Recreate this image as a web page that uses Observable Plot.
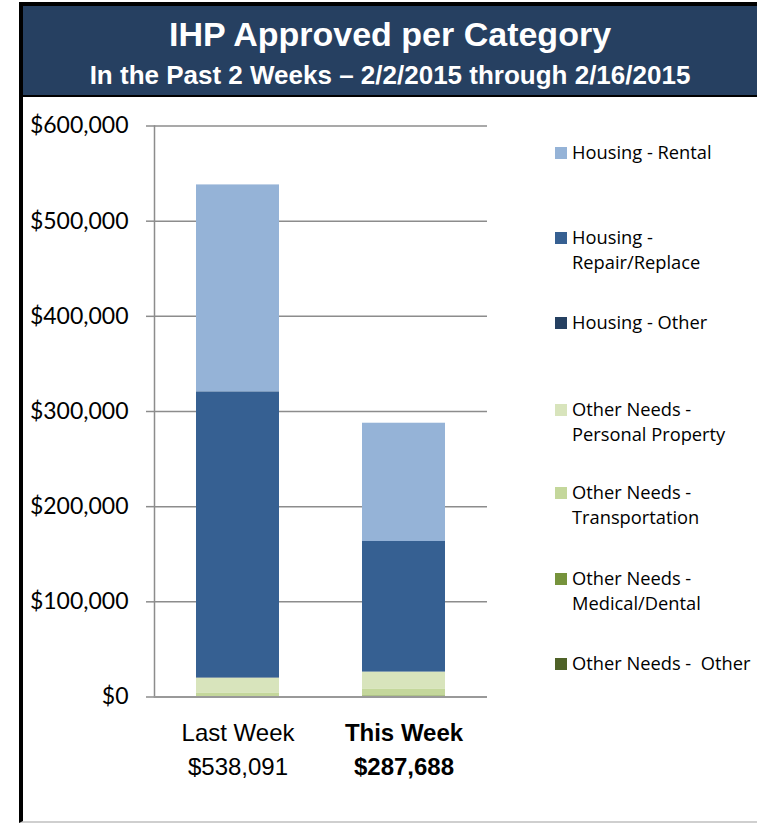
<!DOCTYPE html>
<html>
<head>
<meta charset="utf-8">
<script src="https://cdn.jsdelivr.net/npm/d3@7"></script>
<script src="https://cdn.jsdelivr.net/npm/@observablehq/plot@0.6"></script>
<style>
  html, body { margin: 0; padding: 0; background: #fff; }
  body { width: 757px; height: 824px; position: relative; overflow: hidden; }
  #frame { position: absolute; left: 19px; top: 2px; width: 734px; height: 815px;
    border-left: 4px solid #000; border-top: 4px solid #000; border-bottom: 2px solid #cfcfcf; }
  #header { position: absolute; left: 23px; top: 6px; width: 734px; height: 89px;
    background: #264061; border-bottom: 2px solid #000; color: #fff;
    font-family: "Liberation Sans", Arial, sans-serif; font-weight: bold; text-align: center; }
  #title { position: absolute; left: 0; right: 0; top: 8px; font-size: 34px; line-height: 40px; }
  #subtitle { position: absolute; left: 0; right: 0; top: 53px; font-size: 26px; line-height: 32px; }
  #chart { position: absolute; left: 23px; top: 97px; }
  #legend { position: absolute; left: 555px; top: 138.5px; font-family: "Open Sans", Lato, sans-serif;
    font-size: 18.3px; color: #000; }
  .item { position: absolute; left: 0; display: flex; align-items: flex-start; white-space: pre; }
  .sw { width: 12px; height: 12px; margin-top: 8.5px; margin-right: 5px; flex: none; }
  .lab { line-height: 25px; }
</style>
</head>
<body>
<div id="frame"></div>
<div id="header">
  <div id="title">IHP Approved per Category</div>
  <div id="subtitle">In the Past 2 Weeks – 2/2/2015 through 2/16/2015</div>
</div>
<div id="chart"></div>
<div id="legend"></div>
<script>
// ---- data ----
const categories = ["Last Week", "This Week"];
const totals = [538091, 287688];
const seriesNames = [
  "Housing - Rental",
  "Housing - Repair/Replace",
  "Housing - Other",
  "Other Needs - Personal Property",
  "Other Needs - Transportation",
  "Other Needs - Medical/Dental",
  "Other Needs - Other"
];
const legendLabels = [
  "Housing - Rental",
  "Housing -\nRepair/Replace",
  "Housing - Other",
  "Other Needs -\nPersonal Property",
  "Other Needs -\nTransportation",
  "Other Needs -\nMedical/Dental",
  "Other Needs -  Other"
];
// values per series, in seriesNames order
const lastWeek = [217591, 300600, 300, 15600, 3600, 400, 0];
const thisWeek = [124288, 137400, 0, 17800, 7200, 1000, 0];
const yTicks = [0, 100000, 200000, 300000, 400000, 500000, 600000];

// ---- styles ----
const colors = ["#95b3d7", "#366092", "#254061", "#d8e4bc", "#c4d79b", "#76933c", "#4f6228"];

const rows = [];
[lastWeek, thisWeek].forEach((vals, ci) => {
  vals.forEach((v, si) => rows.push({category: categories[ci], series: seriesNames[si], value: v}));
});
const stackOrder = seriesNames.slice().reverse();
const labelRows = categories.map((c, i) => ({category: c, text: c + "\n$" + d3.format(",")(totals[i]), i}));

const chart = Plot.plot({
  width: 520,
  height: 700,
  marginTop: 28.5,
  marginBottom: 100.5,
  marginLeft: 131,
  marginRight: 56,
  style: {background: "transparent", color: "#000", fontFamily: "Lato, 'Open Sans', sans-serif", fontSize: "23px", overflow: "visible"},
  x: {domain: categories, paddingInner: 0.5, paddingOuter: 0.25, axis: null},
  y: {domain: [0, 600000], axis: null},
  color: {domain: seriesNames, range: colors},
  marks: [
    Plot.gridY(yTicks, {stroke: "#8c8c8c", strokeOpacity: 1, strokeWidth: 1.5}),
    Plot.axisY(yTicks, {tickSize: 8, tickPadding: 18, stroke: "#8c8c8c", strokeWidth: 1.5, strokeOpacity: 1,
      label: null, tickFormat: d => "$" + d3.format(",")(d), fontSize: 23, fill: "#000"}),
    Plot.frame({anchor: "left", stroke: "#8c8c8c", strokeWidth: 1.5}),
    Plot.barY(rows, Plot.stackY({x: "category", y: "value", fill: "series", order: stackOrder})),
    Plot.ruleY([0], {stroke: "#999", strokeWidth: 2}),
    Plot.text(labelRows.filter(d => d.i === 0), {x: "category", y: 0, text: "text", lineAnchor: "top", dy: 19.5,
      lineHeight: 1.4167, fontSize: 24, fontFamily: "'Liberation Sans', Arial, sans-serif", fill: "#000"}),
    Plot.text(labelRows.filter(d => d.i === 1), {x: "category", y: 0, text: "text", lineAnchor: "top", dy: 19.5,
      lineHeight: 1.4167, fontSize: 24, fontWeight: "bold", fontFamily: "'Liberation Sans', Arial, sans-serif", fill: "#000"})
  ]
});
document.getElementById("chart").appendChild(chart);

// legend
const legend = document.getElementById("legend");
const offsets = [0, 85, 170, 257, 340, 426, 511];
legendLabels.forEach((lab, i) => {
  const it = document.createElement("div");
  it.className = "item";
  it.style.top = offsets[i] + "px";
  const sw = document.createElement("div");
  sw.className = "sw";
  sw.style.background = colors[i];
  const t = document.createElement("div");
  t.className = "lab";
  t.textContent = lab;
  it.appendChild(sw); it.appendChild(t);
  legend.appendChild(it);
});
</script>
</body>
</html>
